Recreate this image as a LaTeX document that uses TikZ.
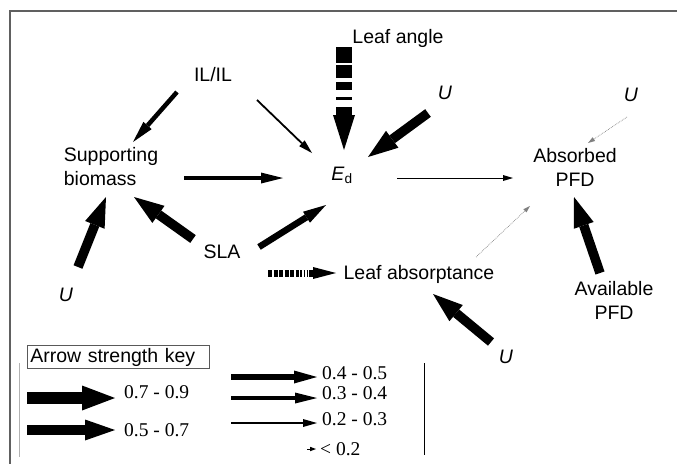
\documentclass[tikz,border=0pt]{standalone}
\usepackage{fontspec}
\setmainfont{Liberation Sans}
\newfontfamily\keyfont{Liberation Serif}
\usetikzlibrary{arrows.meta,calc}

\tikzset{
  var/.style={font=\fontsize{19.5}{24}\selectfont, inner sep=2pt, align=center},
  keylbl/.style={font=\keyfont\fontsize{19.5}{22}\selectfont, inner sep=1pt},
  pth/.style n args={3}{line width=#1, -{Triangle[length=#2,width=#3,line width=0pt]}},
  vstrong/.style={pth={12pt}{33pt}{25pt}},
  strong/.style={pth={9.5pt}{30pt}{21pt}},
  medium/.style={pth={6.5pt}{23pt}{13pt}},
  modest/.style={pth={4.5pt}{22pt}{11pt}},
  weak/.style={pth={1.8pt}{14pt}{8pt}},
  slight/.style={pth={1pt}{10pt}{6pt}},
  vweak/.style={pth={0.8pt}{6pt}{4.5pt}},
  faint/.style={pth={0.7pt}{7pt}{4.5pt}, gray, densely dotted},
  angledash/.style={pth={16pt}{35pt}{22pt},
    dash pattern=on 16pt off 2pt on 13pt off 4pt on 8pt off 7pt on 3pt off 7pt on 40pt off 0pt},
  stripes/.style={pth={7pt}{23pt}{12pt},
    dash pattern=on 4pt off 1.5pt on 4pt off 1.5pt on 4pt off 1.5pt on 4pt off 1.5pt on 4pt off 1.5pt on 3pt off 1.5pt on 2pt off 1.5pt on 1.5pt off 1.5pt on 1pt off 1.5pt on 20pt off 0pt},
}

\begin{document}
\begin{tikzpicture}[x=1pt,y=-1pt]
\useasboundingbox (0,0) rectangle (677,464);
% frame
\draw[gray!75!black, line width=1.2pt] (677,11) -- (10,11) -- (10,464);

% variables
\node[var] (angle) at (398,38) {Leaf angle};
\node[var] (ilil) at (213,75) {IL/IL};
\node[var] (ued) at (445,93) {\itshape U};
\node[var] (uabs) at (631,95) {\itshape U};
\node[var, align=left] (supp) at (111,167) {Supporting\\biomass};
\node[var] (ed) at (342,175) {\textit{E}\textsubscript{d}};
\node[var] (absd) at (575,167) {Absorbed\\PFD};
\node[var] (sla) at (222,252) {SLA};
\node[var] (lab) at (419,274) {Leaf absorptance};
\node[var] (ubl) at (66,295) {\itshape U};
\node[var] (avail) at (614,300) {Available\\PFD};
\node[var] (ubot) at (506,357) {\itshape U};
\coordinate (lastart) at (268,273);

% paths
\draw[angledash] ($(angle)+(-54,9)$) -- ($(ed)+(2,-25)$);
\draw[modest] ($(ilil)+(-36,17)$) -- ($(supp)+(22,-25)$);
\draw[weak] ($(ilil)+(44,25)$) -- ($(ed)+(-30,-22)$);
\draw[strong] ($(ued)+(-17,20)$) -- ($(ed)+(26,-18)$);
\draw[faint] ($(uabs)+(-4,22)$) -- ($(absd)+(13,-24)$);
\draw[modest] ($(supp)+(73,11)$) -- ($(ed)+(-59,3)$);
\draw[slight] ($(ed)+(55,3)$) -- ($(absd)+(-62,11)$);
\draw[strong] ($(sla)+(-29,-13)$) -- ($(supp)+(23,30)$);
\draw[medium] ($(sla)+(37,-5)$) -- ($(ed)+(-16,30)$);
\draw[stripes] (lastart) -- ($(lab)+(-83,-1)$);
\draw[faint] ($(lab)+(57,-17)$) -- ($(absd)+(-45,39)$);
\draw[strong] ($(ubl)+(12,-28)$) -- ($(supp)+(-5,30)$);
\draw[strong] ($(avail)+(-14,-27)$) -- ($(absd)+(-1,30)$);
\draw[strong] ($(ubot)+(-15,-15)$) -- ($(lab)+(14,20)$);

% key
\node[var, draw=gray!70!black, line width=0.8pt, anchor=west, minimum height=23pt,
  text width=176pt, inner xsep=3pt, inner ysep=0pt, align=left] (key) at (27,357) {Arrow strength key};
\draw[gray!60, line width=1pt] (19,363) -- (19,457);
\draw[line width=1pt] (424,363) -- (424,455);
\node[keylbl, anchor=west] (l79) at (123,392) {0.7 - 0.9};
\node[keylbl, anchor=west] (l57) at (123,430) {0.5 - 0.7};
\node[keylbl, anchor=west] (l45) at (321,373) {0.4 - 0.5};
\node[keylbl, anchor=west] (l34) at (321,393) {0.3 - 0.4};
\node[keylbl, anchor=west] (l23) at (321,419) {0.2 - 0.3};
\node[keylbl, anchor=west] (l02) at (319,449) {< 0.2};
\coordinate (k79) at (27,398);
\coordinate (k57) at (27,430);
\coordinate (k45) at (231,377);
\coordinate (k34) at (231,398);
\coordinate (k23) at (231,423);
\coordinate (k02) at (307,449);
\draw[vstrong] (k79) -- ([xshift=-8pt]k79 -| l79.west);
\draw[strong] (k57) -- ([xshift=-8pt]k57 -| l57.west);
\draw[medium] (k45) -- ([xshift=-4pt]k45 -| l45.west);
\draw[modest] (k34) -- ([xshift=-4pt]k34 -| l34.west);
\draw[weak] (k23) -- ([xshift=-4pt]k23 -| l23.west);
\draw[vweak] (k02) -- ([xshift=-3pt]k02 -| l02.west);
\end{tikzpicture}
\end{document}
